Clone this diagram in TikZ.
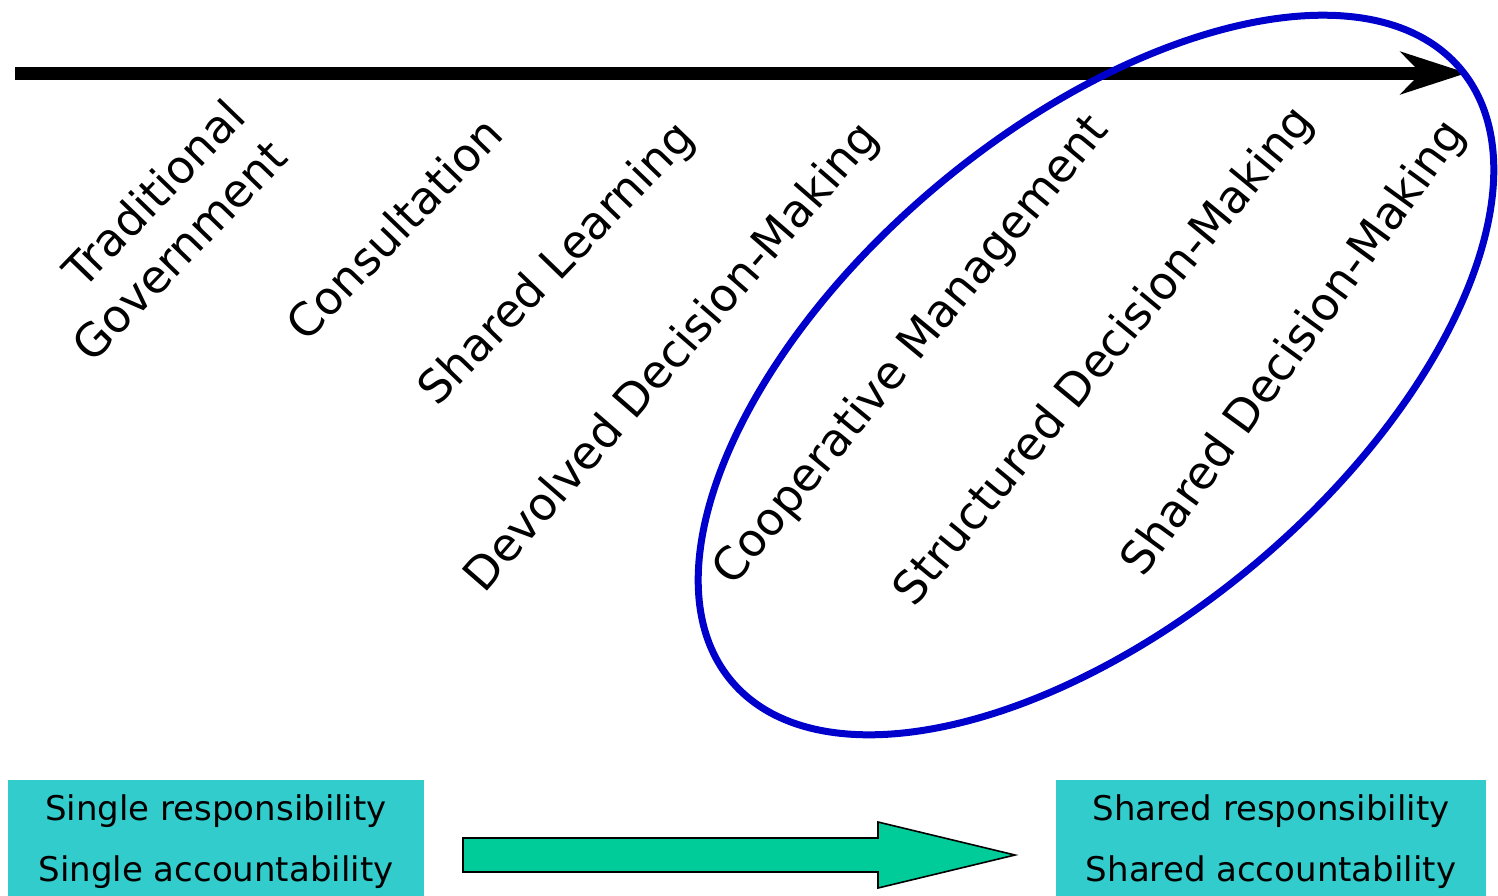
\documentclass[tikz,border=0pt]{standalone}
\usepackage{fontspec}
\setmainfont{DejaVu Sans}
\usetikzlibrary{arrows.meta}
\definecolor{boxteal}{HTML}{33CCCC}
\definecolor{arrowgreen}{HTML}{00CC99}
\definecolor{ringblue}{HTML}{0000CC}

\begin{document}
\begin{tikzpicture}[x=0.5pt,y=0.5pt,
	stage/.style={font=\fontsize{22.8pt}{29pt}\selectfont, inner sep=0pt, align=right},
	sumbox/.style={fill=boxteal, minimum height=62pt, inner sep=0pt, align=center,
		font=\fontsize{17pt}{30.5pt}\selectfont}]
		\useasboundingbox (0,0) rectangle (1498,-895);

		% time line
		\coordinate (T0) at (15,-73);
		\coordinate (T1) at (1467,-73);
		\draw[line width=6.5pt, -{Stealth[length=33pt,width=21pt,inset=10pt]}] (T0) -- (T1);

		% stages
		\node[stage, rotate=46]   (trad)   at (158,-230)  {Traditional\\Government};
		\node[stage, rotate=46]   (cons)   at (394,-228)  {Consultation};
		\node[stage, rotate=46]   (learn)  at (558,-265)  {Shared Learning};
		\node[stage, rotate=49]   (devol)  at (673,-358)  {Devolved Decision-Making};
		\node[stage, rotate=50.5] (coop)   at (912,-351)  {Cooperative Management};
		\node[stage, rotate=50.5] (struct) at (1105,-357) {Structured Decision-Making};
		\node[stage, rotate=54]   (shdm)   at (1295,-349) {Shared Decision-Making};

		% ring round the last three
		\coordinate (E) at (1096,-375);
		\draw[ringblue, line width=3.5pt, rotate around={40:(E)}] (E) ellipse [x radius=476, y radius=247];

		% summary
		\node[sumbox, minimum width=208pt] (single) at (216,-842)  {Single responsibility\\Single accountability};
		\node[sumbox, minimum width=215pt] (shared) at (1271,-842) {Shared responsibility\\Shared accountability};

		\coordinate (A) at (463,-838);
		\coordinate (B) at (878,-838);
		\coordinate (C) at (878,-822);
		\coordinate (D) at (1015,-855);
		\coordinate (F) at (878,-888);
		\coordinate (G) at (878,-872);
		\coordinate (H) at (463,-872);
		\draw[fill=arrowgreen, line width=0.8pt] (A) -- (B) -- (C) -- (D) -- (F) -- (G) -- (H) -- cycle;

	\end{tikzpicture}
\end{document}
